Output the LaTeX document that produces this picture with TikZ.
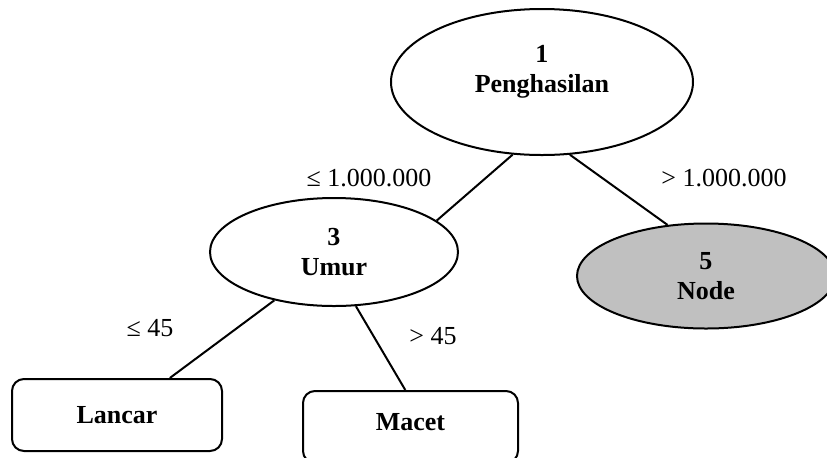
\documentclass[tikz,border=0pt]{standalone}
\usepackage{fontspec}
\setmainfont{Liberation Serif}
\usetikzlibrary{shapes.geometric}
\definecolor{leafgray}{RGB}{192,192,192}
\begin{document}
\begin{tikzpicture}[x=0.5pt,y=-0.5pt,
  every node/.style={font=\fontsize{13}{15}\selectfont},
  split/.style={draw=black,line width=1pt,ellipse,inner sep=0pt,align=center,
                font=\fontsize{13}{15}\selectfont\bfseries},
  leaf/.style={draw=black,line width=1pt,rounded corners=6pt,inner sep=0pt,align=center,
               font=\fontsize{13}{15}\selectfont\bfseries},
  edge/.style={line width=1pt},
  cond/.style={inner sep=0pt}]
\useasboundingbox (0,0) rectangle (827,457);

% decision nodes
\node[split,minimum width=151pt,minimum height=73pt] (n1) at (542,82) {};
\node[font=\fontsize{13}{15}\selectfont\bfseries,align=center] (t1) at (542,72) {1\\Penghasilan};
\node[split,minimum width=124pt,minimum height=54pt] (n3) at (334,252) {3\\Umur};
\node[split,fill=leafgray,minimum width=129pt,minimum height=52.5pt] (n5) at (706,276) {5\\Node};

% leaves
\node[leaf,minimum width=105pt,minimum height=36pt] (lancar) at (117,415) {Lancar};
\node[leaf,minimum width=107.5pt,minimum height=36pt,text depth=5pt] (macet) at (410.5,427) {Macet};

% branches
\draw[edge] (n1.248.3) -- (n3.17.4);
\draw[edge] (n1.291) -- (n5.127.2);
\draw[edge] (n3.219.4) -- (lancar.35.2);
\draw[edge] (n3.292.4) -- (macet.98.5);

% branch conditions
\node[cond] (c1) at (369,178) {≤ 1.000.000};
\node[cond] (c2) at (724,178) {> 1.000.000};
\node[cond] (c3) at (150,328) {≤ 45};
\node[cond] (c4) at (433,336) {> 45};
\end{tikzpicture}
\end{document}
